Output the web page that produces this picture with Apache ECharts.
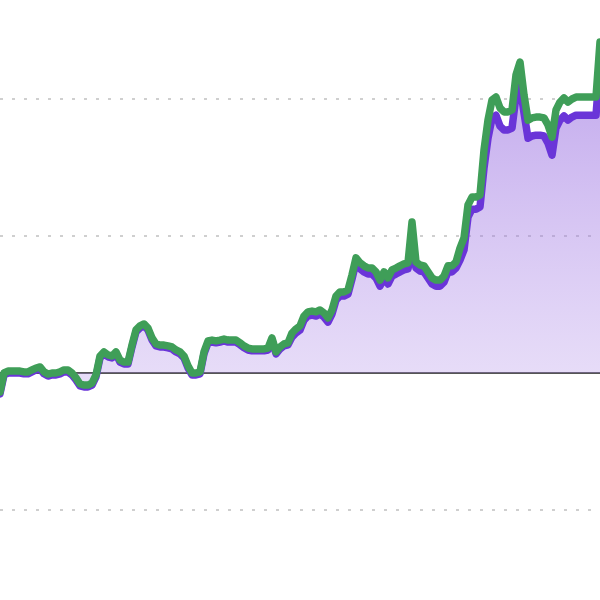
<!DOCTYPE html>
<html>
<head>
<meta charset="utf-8">
<script src="https://cdn.jsdelivr.net/npm/echarts@6/dist/echarts.min.js"></script>
<style>html,body{margin:0;padding:0;background:#fff;overflow:hidden;width:600px;height:600px}#c{position:absolute;left:0;top:-38px;width:600px;height:685px}</style>
</head>
<body>
<div id="c"></div>
<script>
var categories = [];
for (var i = 0; i < 151; i++) categories.push(String(i));

var greenValues = [
-6.9,0,0.7,0.7,0.7,0.7,0.4,0.4,1.1,1.8,2.2,0.4,-0.4,0,0,0.4,1.1,1.1,0,-1.8,
-4.0,-4.4,-4.4,-3.7,-0.7,6.2,7.7,6.6,6.2,7.7,4.7,4.0,4.0,10.2,15.7,17.2,17.9,16.4,12.8,10.6,
10.2,10.2,9.9,9.5,8.4,7.7,6.2,2.6,0,0,0.4,7.7,11.7,12.0,11.7,12.0,12.4,12.0,12.0,12.0,
11.0,9.9,9.1,8.8,8.8,8.8,8.8,9.1,12.8,7.7,9.5,10.6,11.0,14.6,16.1,17.2,20.8,22.3,22.6,22.3,
23.0,21.9,20.1,23.0,28.1,29.6,29.6,30.3,35.8,42.0,40.2,39.1,38.3,38.3,36.9,33.9,36.9,34.7,37.6,38.3,
39.1,39.8,40.2,55.1,40.5,39.4,39.1,36.9,34.7,33.9,33.9,35.4,39.1,39.1,40.5,45.6,49.3,61.3,64.2,64.2,
65.0,81.4,92.3,99.6,100.7,96.7,95.3,95.3,96.0,108.8,113.5,101.5,92.3,93.1,93.4,93.4,93.1,90.5,86.1,96.0,
98.9,100.4,98.9,100.0,100.7,100.7,100.7,100.7,100.7,100.7,120.8
];

var purpleValues = [
-7.6,-0.7,0,0,0,0,-0.3,-0.3,0.4,1.1,1.5,-0.3,-1.1,-0.7,-0.7,-0.3,0.4,0.4,-0.7,-2.5,
-4.7,-5.1,-5.1,-4.4,-1.4,5.5,7.0,5.9,5.5,7.0,4.0,3.3,3.3,9.5,15.0,16.5,17.2,15.7,12.1,9.9,
9.5,9.5,9.2,8.8,7.7,7.0,5.5,1.9,-0.7,-0.7,-0.3,7.0,11.0,11.3,11.0,11.3,11.7,11.3,11.3,11.3,
10.3,9.2,8.4,8.1,8.1,8.1,8.1,8.4,12.1,7.0,8.8,9.9,10.3,13.1,14.6,15.7,19.3,20.8,21.1,20.8,
21.5,20.4,18.6,21.5,26.6,28.1,28.1,28.8,34.3,40.5,38.0,36.9,36.1,36.1,34.7,31.7,34.7,32.5,35.4,36.1,
36.9,37.6,38.0,46.0,38.3,37.2,36.9,34.7,32.5,31.7,31.7,33.2,36.9,36.9,38.3,41.2,44.9,56.9,59.8,59.8,
60.6,74.8,85.7,93.0,94.1,90.1,88.7,88.7,89.4,101.0,105.1,94.9,85.7,86.5,86.8,86.8,86.5,83.9,79.5,89.4,
92.3,93.8,92.3,93.4,94.1,94.1,94.1,94.1,94.1,94.1,113.0
];

var chart = echarts.init(document.getElementById('c'));
chart.setOption({
  animation: false,
  backgroundColor: '#ffffff',
  grid: { left: 0, right: 0, top: 0, bottom: 0, containLabel: false },
  xAxis: {
    type: 'category',
    data: categories,
    boundaryGap: false,
    axisLine: { show: true, onZero: true, lineStyle: { color: '#555555', width: 2 } },
    axisTick: { show: false },
    axisLabel: { show: false },
    splitLine: { show: false }
  },
  yAxis: {
    type: 'value',
    min: -100,
    max: 150,
    interval: 50,
    axisLine: { show: false },
    axisTick: { show: false },
    axisLabel: { show: false },
    splitLine: { show: true, lineStyle: { color: '#c0c0c0', width: 1.5, type: [3, 9] } }
  },
  series: [
    {
      type: 'line',
      data: purpleValues,
      showSymbol: false,
      z: 2,
      lineStyle: { color: '#6a35d8', width: 7.5, join: 'round', cap: 'round' },
      areaStyle: {
        color: new echarts.graphic.LinearGradient(0, 0, 0, 1, [
          { offset: 0, color: 'rgba(145,100,222,0.8)' },
          { offset: 1, color: 'rgba(175,140,232,0.4)' }
        ])
      }
    },
    {
      type: 'line',
      data: greenValues,
      showSymbol: false,
      z: 3,
      lineStyle: { color: '#3f9e58', width: 7.5, join: 'round', cap: 'round' }
    }
  ]
});
</script>
</body>
</html>
